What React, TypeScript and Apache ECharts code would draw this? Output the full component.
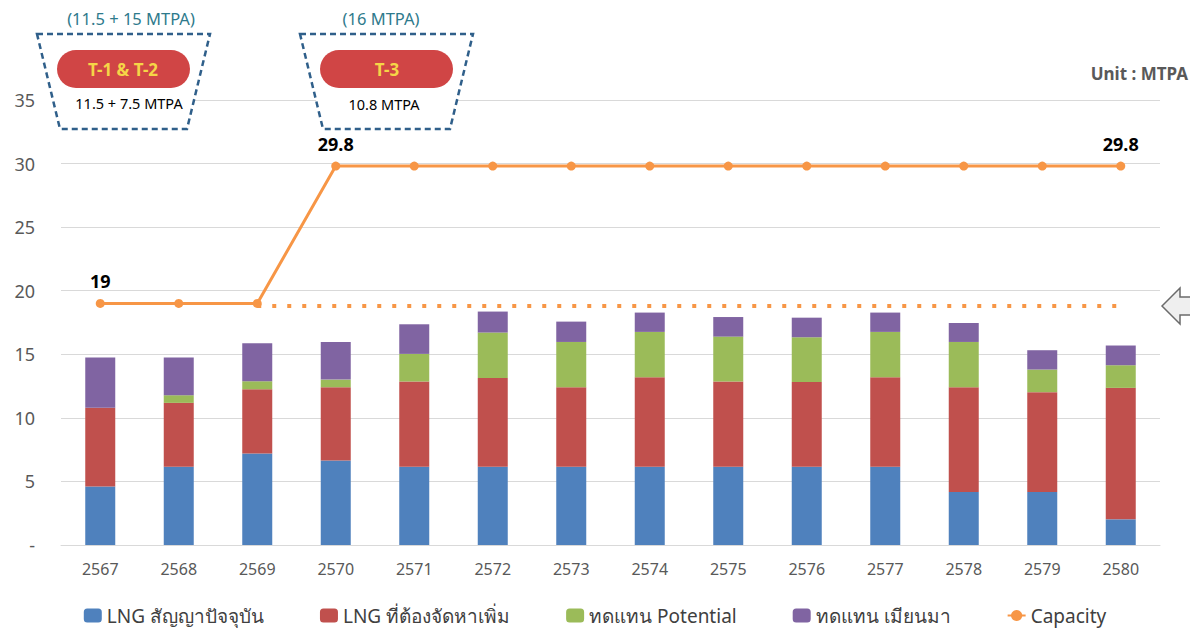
import React, { useEffect, useRef } from "react";
import * as echarts from "echarts";

const years = ["2567", "2568", "2569", "2570", "2571", "2572", "2573", "2574", "2575", "2576", "2577", "2578", "2579", "2580"];
const lngCurrent = [4.6, 6.15, 7.2, 6.65, 6.15, 6.15, 6.15, 6.15, 6.15, 6.15, 6.15, 4.16, 4.16, 2.02];
const lngAdditional = [6.2, 5.03, 5.05, 5.76, 6.71, 6.99, 6.26, 7.05, 6.71, 6.68, 7.05, 8.25, 7.86, 10.34];
const replacePotential = [0, 0.6, 0.63, 0.6, 2.17, 3.57, 3.56, 3.56, 3.53, 3.51, 3.56, 3.56, 1.78, 1.78];
const replaceMyanmar = [3.95, 2.96, 2.99, 2.95, 2.33, 1.65, 1.6, 1.52, 1.54, 1.54, 1.52, 1.49, 1.52, 1.55];
const capacity = [19, 19, 19, 29.8, 29.8, 29.8, 29.8, 29.8, 29.8, 29.8, 29.8, 29.8, 29.8, 29.8];
const capacityLabelIdx = [0, 3, 13];
const currentLevel = [null, null, 18.8, 18.8, 18.8, 18.8, 18.8, 18.8, 18.8, 18.8, 18.8, 18.8, 18.8, 18.8];
const yTicks = { min: 0, max: 35, interval: 5 };

const seriesNames = ["LNG สัญญาปัจจุบัน", "LNG ที่ต้องจัดหาเพิ่ม", "ทดแทน Potential", "ทดแทน เมียนมา", "Capacity"];
const colors = ["#4F81BD", "#C0504D", "#9BBB59", "#8064A2", "#F79646"];

const FONT = "'Noto Sans', 'DejaVu Sans', sans-serif";

export default function App() {
  const ref = useRef<HTMLDivElement>(null);
  useEffect(() => {
    if (!ref.current) return;
    const chart = echarts.init(ref.current, null, { renderer: "svg" });
    const barData = [lngCurrent, lngAdditional, replacePotential, replaceMyanmar];
    const bars = barData.map((d, i) => ({
      name: seriesNames[i],
      type: "bar",
      stack: "total",
      barWidth: 30,
      data: d,
      itemStyle: { color: colors[i] },
    }));
    const option: any = {
      animation: false,
      textStyle: { fontFamily: FONT },
      grid: { left: 61, right: 30, top: 100, bottom: 85 },
      legend: {
        data: seriesNames,
        left: "center",
        top: 601,
        itemWidth: 18,
        itemHeight: 14,
        itemGap: 56,
        textStyle: { fontSize: 19, color: "#404040", fontFamily: FONT },
      },
      xAxis: {
        type: "category",
        data: years,
        axisTick: { show: false },
        axisLine: { lineStyle: { color: "#d9d9d9", width: 1 } },
        axisLabel: { color: "#595959", fontSize: 16, margin: 16 },
      },
      yAxis: {
        type: "value",
        min: yTicks.min,
        max: yTicks.max,
        interval: yTicks.interval,
        axisLabel: {
          color: "#595959",
          fontSize: 18,
          margin: 26,
          formatter: (v: number) => (v === 0 ? "-" : String(v)),
        },
        splitLine: { lineStyle: { color: "#d9d9d9" } },
      },
      series: [
        ...bars,
        {
          name: "current",
          type: "line",
          data: currentLevel,
          symbol: "none",
          lineStyle: { color: colors[4], width: 4, type: [4, 11] },
          z: 3,
        },
        {
          name: seriesNames[4],
          type: "line",
          data: capacity.map((v, i) => ({
            value: v,
            label: {
              show: capacityLabelIdx.includes(i),
              position: "top",
              distance: 9,
              fontWeight: "bold",
              fontSize: 18,
              color: "#000",
            },
          })),
          symbol: "circle",
          symbolSize: 9,
          itemStyle: { color: colors[4] },
          lineStyle: { color: colors[4], width: 3 },
          z: 4,
        },
      ],
      graphic: [
        { type: "text", right: 2, top: 65, style: { text: "Unit : MTPA", font: `bold 17px ${FONT}`, fill: "#595959" } },
        // T-1 & T-2 box
        { type: "polygon", z: 10, shape: { points: [[37, 34], [210, 34], [187, 129], [60, 129]] }, style: { fill: "#fff", stroke: "#2F5F8A", lineWidth: 2.5, lineDash: [6, 4] } },
        { type: "rect", z: 11, shape: { x: 57, y: 50, width: 133, height: 38, r: 19 }, style: { fill: "#D04545" } },
        { type: "text", z: 12, x: 123, y: 69, style: { text: "T-1 & T-2", font: `bold 17px ${FONT}`, fill: "#F5D547", align: "center", verticalAlign: "middle" } },
        { type: "text", z: 12, x: 129, y: 103, style: { text: "11.5 + 7.5 MTPA", font: `14.5px ${FONT}`, fill: "#000", align: "center", verticalAlign: "middle" } },
        { type: "text", z: 12, x: 131, y: 18, style: { text: "(11.5 + 15 MTPA)", font: `16.5px ${FONT}`, fill: "#2E7A8C", align: "center", verticalAlign: "middle" } },
        // T-3 box
        { type: "polygon", z: 10, shape: { points: [[300, 34], [473, 34], [450, 129], [323, 129]] }, style: { fill: "#fff", stroke: "#2F5F8A", lineWidth: 2.5, lineDash: [6, 4] } },
        { type: "rect", z: 11, shape: { x: 320, y: 50, width: 133, height: 38, r: 19 }, style: { fill: "#D04545" } },
        { type: "text", z: 12, x: 387, y: 69, style: { text: "T-3", font: `bold 17px ${FONT}`, fill: "#F5D547", align: "center", verticalAlign: "middle" } },
        { type: "text", z: 12, x: 384, y: 104, style: { text: "10.8 MTPA", font: `14.5px ${FONT}`, fill: "#000", align: "center", verticalAlign: "middle" } },
        { type: "text", z: 12, x: 381, y: 18, style: { text: "(16 MTPA)", font: `16.5px ${FONT}`, fill: "#2E7A8C", align: "center", verticalAlign: "middle" } },
        // arrow on right
        { type: "polygon", shape: { points: [[1162, 306], [1180, 288], [1180, 297], [1194, 297], [1194, 315], [1180, 315], [1180, 324]] }, style: { fill: "#EFEFEF", stroke: "#6b6b6b", lineWidth: 1.5 } },
      ],
    };
    chart.setOption(option);
    return () => chart.dispose();
  }, []);
  return <div ref={ref} style={{ position: "fixed", left: 0, top: 0, width: 1190, height: 630, background: "#fff" }} />;
}
